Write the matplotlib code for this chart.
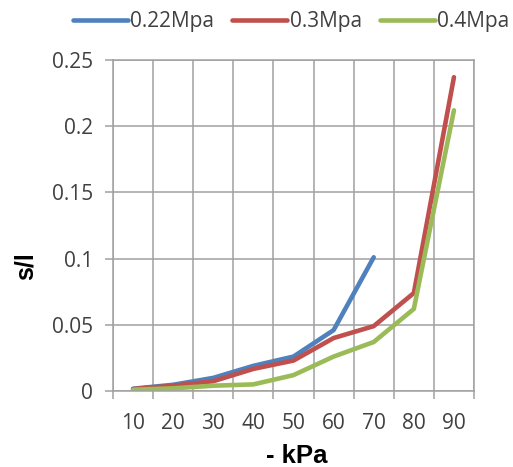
import numpy as np
import matplotlib
matplotlib.use('Agg')
import matplotlib.pyplot as plt

# category axis (kPa) and the three pressure series
categories = ['10', '20', '30', '40', '50', '60', '70', '80', '90']
s_022 = [0.0017, 0.0047, 0.0099, 0.019, 0.026, 0.046, 0.101]
s_03 = [0.0015, 0.004, 0.0074, 0.0167, 0.023, 0.040, 0.049, 0.074, 0.237]
s_04 = [0.001, 0.002, 0.004, 0.005, 0.012, 0.026, 0.037, 0.062, 0.212]
series_names = ['0.22Mpa', '0.3Mpa', '0.4Mpa']
series_colors = ['#4F81BD', '#C0504D', '#9BBB59']
y_ticks = [0, 0.05, 0.1, 0.15, 0.2, 0.25]
y_tick_labels = ['0', '0.05', '0.1', '0.15', '0.2', '0.25']

tick_font = 'Open Sans'
label_font = 'Liberation Sans'
grid_color = '#a0a0a0'
text_color = '#404040'

fig = plt.figure(figsize=(5.13, 4.67), dpi=100)
ax = fig.add_axes([113 / 513, 1 - 391 / 467, (474 - 113) / 513, (391 - 60) / 467])

lines = []
for vals, name, col in zip([s_022, s_03, s_04], series_names, series_colors):
    x = np.arange(len(vals))
    ln, = ax.plot(x, vals, color=col, lw=3.3, solid_capstyle='round', label=name)
    lines.append(ln)

ax.set_xlim(-0.5, len(categories) - 0.5)
ax.set_ylim(0, 0.25)

# labels at category centres, gridlines / tick marks at category borders
ax.set_xticks(np.arange(len(categories)))
ax.set_xticklabels(categories)
ax.set_xticks(np.arange(len(categories) + 1) - 0.5, minor=True)
ax.tick_params(axis='x', which='major', length=0, pad=16)
ax.tick_params(axis='x', which='minor', length=5.5, width=1.1, color=grid_color, direction='out')
ax.set_yticks(y_ticks)
ax.set_yticklabels(y_tick_labels)
ax.tick_params(axis='y', length=5.5, width=1.1, color=grid_color, direction='out', pad=9)

for lab in ax.get_xticklabels() + ax.get_yticklabels():
    lab.set_fontfamily(tick_font)
    lab.set_fontsize(15)
    lab.set_color(text_color)

ax.grid(True, axis='x', which='minor', color=grid_color, lw=1.1)
ax.grid(True, axis='y', which='major', color=grid_color, lw=1.1)
ax.set_axisbelow(True)
for sp in ax.spines.values():
    sp.set_color(grid_color)
    sp.set_linewidth(1.1)

fig.text(26 / 513, 1 - 266 / 467, 's/l', rotation=90, ha='center', va='center',
         fontsize=18, fontweight='bold', family=label_font)
fig.text(297 / 513, 1 - 456 / 467, '- kPa', ha='center', va='center',
         fontsize=18.5, fontweight='bold', family=label_font)

leg = fig.legend(handles=lines, loc='center', bbox_to_anchor=(291 / 513, 1 - 22 / 467),
                 ncol=3, frameon=False, handlelength=2.65, handletextpad=0.12,
                 columnspacing=0.85, borderpad=0, prop={'family': tick_font, 'size': 15})
for t in leg.get_texts():
    t.set_color(text_color)

fig.savefig('out.png', dpi=100)
